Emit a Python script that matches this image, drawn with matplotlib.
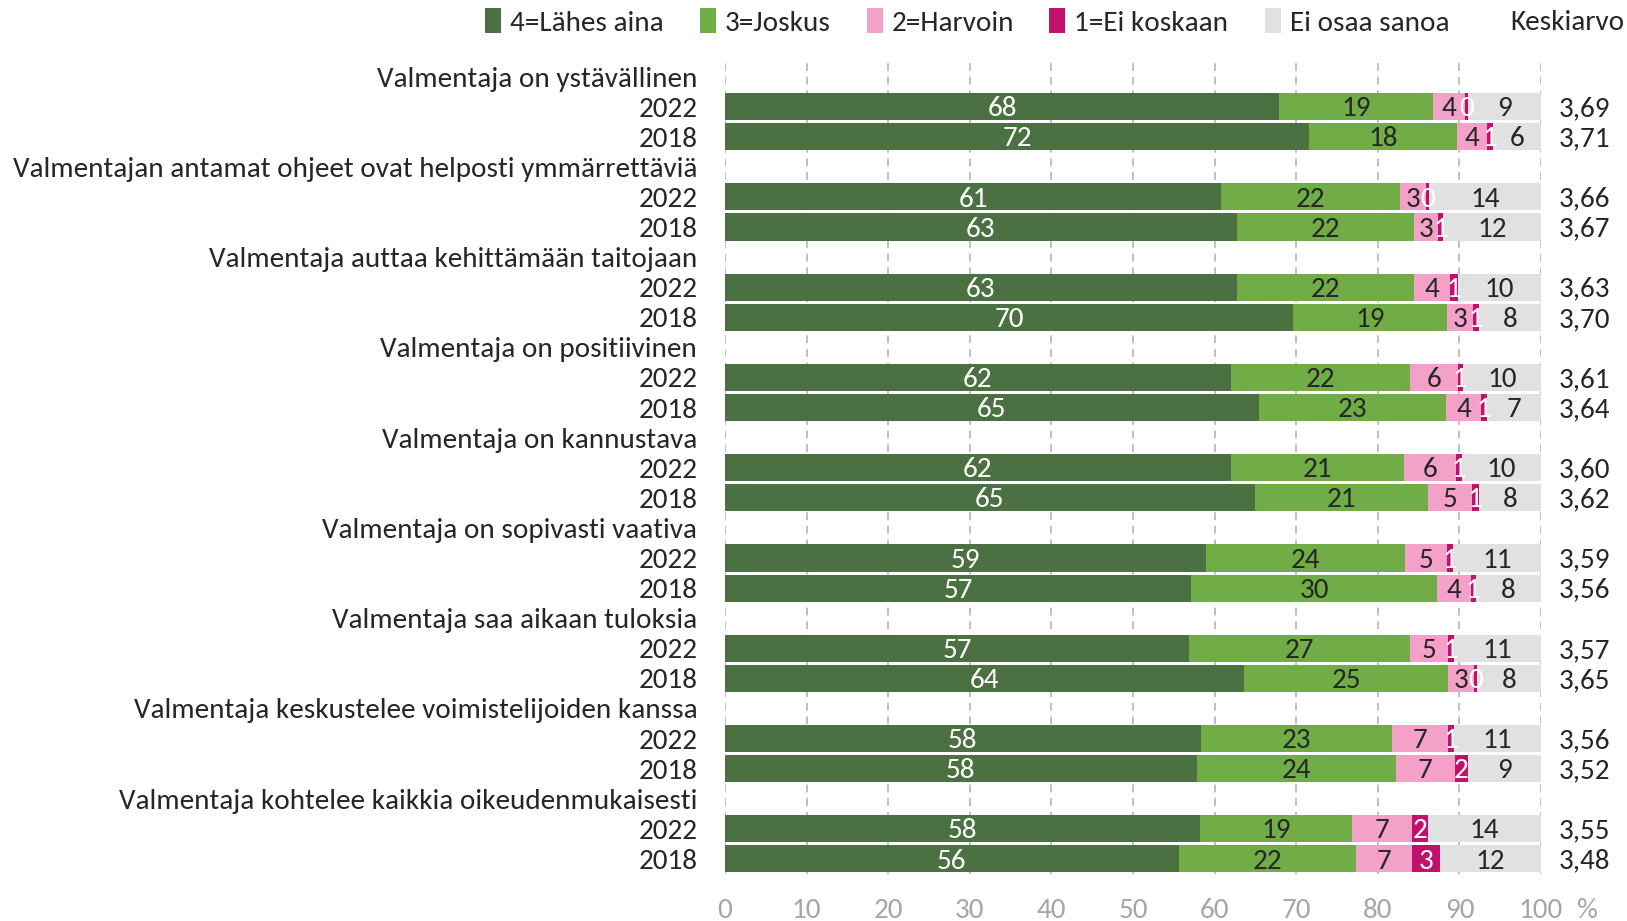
import matplotlib
matplotlib.use('Agg')
import matplotlib.pyplot as plt
from matplotlib import font_manager as fm
import numpy as np

# ---------------- data ----------------
categories = [
    "Valmentaja on ystävällinen",
    "Valmentajan antamat ohjeet ovat helposti ymmärrettäviä",
    "Valmentaja auttaa kehittämään taitojaan",
    "Valmentaja on positiivinen",
    "Valmentaja on kannustava",
    "Valmentaja on sopivasti vaativa",
    "Valmentaja saa aikaan tuloksia",
    "Valmentaja keskustelee voimistelijoiden kanssa",
    "Valmentaja kohtelee kaikkia oikeudenmukaisesti",
]
years = ["2022", "2018"]
series_names = ["4=Lähes aina", "3=Joskus", "2=Harvoin", "1=Ei koskaan", "Ei osaa sanoa"]

# rows in order: cat1 2022, cat1 2018, cat2 2022, ...
lahes_aina = [67.9, 71.6, 60.8, 62.7, 62.7, 69.6, 62.0, 65.4, 62.0, 64.9,
              59.0, 57.1, 56.9, 63.6, 58.3, 57.8, 58.2, 55.6]
joskus = [18.9, 18.1, 21.9, 21.7, 21.7, 18.9, 21.9, 22.9, 21.2, 21.2,
          24.3, 30.2, 27.0, 25.0, 23.4, 24.4, 18.6, 21.7]
harvoin = [3.9, 3.7, 3.2, 3.0, 4.4, 3.2, 5.9, 4.4, 6.4, 5.4,
           5.2, 4.1, 4.7, 3.2, 6.9, 7.2, 7.4, 6.9]
ei_koskaan = [0.3, 0.7, 0.4, 0.6, 1.0, 0.7, 0.6, 0.7, 0.7, 0.9,
              0.7, 0.6, 0.7, 0.4, 0.7, 1.6, 1.9, 3.4]
ei_osaa = [9.0, 5.9, 13.7, 12.0, 10.2, 7.6, 9.6, 6.6, 9.7, 7.6,
           10.8, 8.0, 10.7, 7.8, 10.7, 9.0, 13.9, 12.4]
keskiarvo = [3.69, 3.71, 3.66, 3.67, 3.63, 3.70, 3.61, 3.64, 3.60, 3.62,
             3.59, 3.56, 3.57, 3.65, 3.56, 3.52, 3.55, 3.48]
x_ticks = [0, 10, 20, 30, 40, 50, 60, 70, 80, 90, 100]

# ---------------- style ----------------
colors = ["#4B7142", "#70AD47", "#F4A1C9", "#C2106E", "#E1E1E1"]
label_colors = ["white", "#262626", "#262626", "white", "#262626"]
TXT = "#262626"
GRAY = "#A6A6A6"

names = {f.name for f in fm.fontManager.ttflist}
FONT = "DejaVu Sans"
for cand in ["Carlito", "Calibri", "Liberation Sans Narrow", "Lato"]:
    if cand in names:
        FONT = cand
        break
plt.rcParams["font.family"] = [FONT, "DejaVu Sans"]

W, H = 1627, 921
fig = plt.figure(figsize=(W / 100, H / 100), dpi=100)

# fit font size so the longest category label is ~687 px wide
r = fig.canvas.get_renderer()
t = fig.text(0, 0, categories[1], fontsize=10)
w = t.get_window_extent(r).width
t.remove()
FS = max(13.0, min(26.0, 10 * 687 / w))

ax = fig.add_axes([725 / W, 1 - 874 / H, (1541 - 725) / W, (874 - 61.5) / H])

# row positions
row_labels = []
data_rows = []
for i, c in enumerate(categories):
    row_labels += [c] + years
    data_rows += [3 * i + 1, 3 * i + 2]
data_rows = np.array(data_rows)

series = [lahes_aina, joskus, harvoin, ei_koskaan, ei_osaa]
left = np.zeros(len(data_rows))
handles = []
for vals, col, lc, nm in zip(series, colors, label_colors, series_names):
    vals = np.array(vals)
    bars = ax.barh(data_rows, vals, left=left, height=0.9, color=col, label=nm, zorder=2)
    handles.append(bars)
    labs = [str(int(np.floor(v + 0.5))) for v in vals]
    anns = ax.bar_label(bars, labels=labs, label_type="center", color=lc, fontsize=FS, zorder=3)
    for a in anns:
        a.xyann = (0, -1.5)
    left += vals

# means
for y, m in zip(data_rows, keskiarvo):
    ax.annotate(f"{m:.2f}".replace(".", ","), (105.3, y), xytext=(0, -1.5),
                textcoords="offset points", ha="center", va="center",
                fontsize=FS, color=TXT, annotation_clip=False)

ax.set_xlim(0, 100)
ax.set_ylim(len(row_labels) - 0.5, -0.5)
ax.set_yticks(range(len(row_labels)))
ax.set_yticklabels(row_labels, fontsize=FS, color=TXT)
ax.set_xticks(x_ticks)
ax.set_xticklabels([str(v) for v in x_ticks], fontsize=FS, color=GRAY)
ax.tick_params(axis="y", length=0, pad=20)
ax.tick_params(axis="x", length=0, pad=17)
for s in ax.spines.values():
    s.set_visible(False)
ax.grid(axis="x", linestyle=(0, (4, 3)), color="#BFBFBF", linewidth=1.4, zorder=0)
ax.grid(axis="y", visible=False)
ax.set_axisbelow(True)

fig.text(1587 / W, 1 - 910 / H, "%", ha="center", va="center", fontsize=FS, color=GRAY)

# legend entries placed individually
legend_x = [485, 700, 867, 1049, 1265]
for h, nm, lx in zip(handles, series_names, legend_x):
    leg = fig.legend(handles=[h], labels=[nm], frameon=False,
                     loc="center left", bbox_to_anchor=(lx / W, 1 - 22 / H),
                     fontsize=FS, handlelength=0.55, handleheight=0.9,
                     handletextpad=0.3, borderaxespad=0, borderpad=0)
    for tx in leg.get_texts():
        tx.set_color(TXT)
fig.text(1510 / W, 1 - 22 / H, "Keskiarvo", ha="left", va="center", fontsize=FS, color=TXT)

fig.savefig("out.png", dpi=100)
